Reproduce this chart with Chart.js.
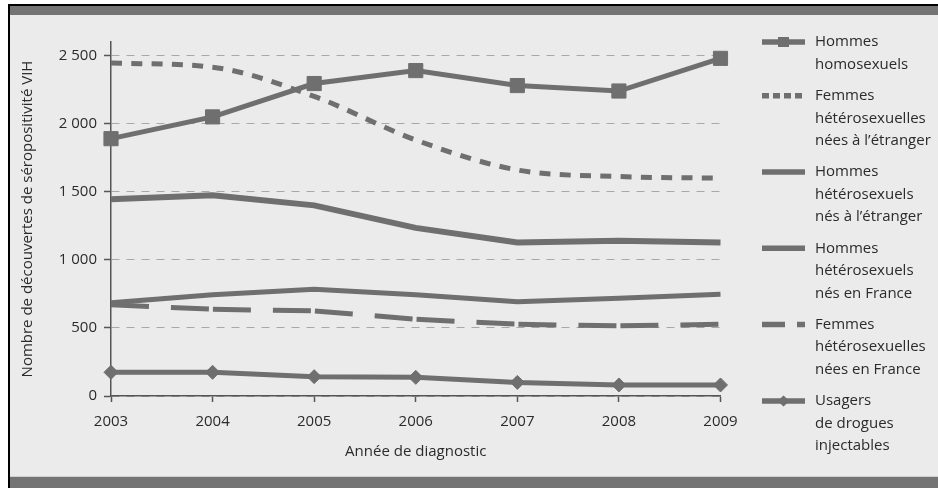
<!DOCTYPE html>
<html><head><meta charset="utf-8">
<script src="https://cdn.jsdelivr.net/npm/chart.js@4.4.0/dist/chart.umd.min.js"></script>
<style>html,body{margin:0;padding:0;background:#fff;overflow:hidden}canvas{display:block}</style>
</head><body><canvas id="c" width="938" height="488"></canvas>
<script>
// ---- data ----
const years = ['2003','2004','2005','2006','2007','2008','2009'];
const hommesHomo     = [1890, 2050, 2295, 2390, 2280, 2240, 2480];
const femmesEtranger = [2445, 2415, 2200, 1880, 1660, 1612, 1600];
const hommesEtranger = [1445, 1475, 1400, 1235, 1127, 1140, 1127];
const hommesFrance   = [685, 743, 784, 743, 693, 718, 748];
const femmesFrance   = [670, 637, 625, 564, 527, 515, 527];
const usagersDrogues = [174, 174, 142, 137, 100, 81, 81];
const yTicks = [0, 500, 1000, 1500, 2000, 2500];
const yTickLabels = ['0', '500', '1 000', '1 500', '2 000', '2 500'];
const seriesLabels = [
  ['Hommes', 'homosexuels'],
  ['Femmes', 'hétérosexuelles', 'nées à l’étranger'],
  ['Hommes', 'hétérosexuels', 'nés à l’étranger'],
  ['Hommes', 'hétérosexuels', 'nés en France'],
  ['Femmes', 'hétérosexuelles', 'nées en France'],
  ['Usagers', 'de drogues', 'injectables']
];
const xTitle = 'Année de diagnostic';
const yTitle = 'Nombre de découvertes de séropositivité VIH';

const COL = '#6f6f6f';
const TXT = '#2b2b2b';
Chart.defaults.font.family = "'Open Sans', 'DejaVu Sans', sans-serif";
Chart.defaults.font.size = 15;
Chart.defaults.color = TXT;

const base = {borderColor: COL, backgroundColor: COL, pointRadius: 0, pointHoverRadius: 0, tension: 0, clip: false, fill: false};
const datasets = [
  Object.assign({}, base, {label: seriesLabels[0].join(' '), data: hommesHomo, borderWidth: 5, pointStyle: 'rect', pointRadius: 10, pointBorderWidth: 1}),
  Object.assign({}, base, {label: seriesLabels[1].join(' '), data: femmesEtranger, borderWidth: 5, borderDash: [11, 9.3], cubicInterpolationMode: 'monotone'}),
  Object.assign({}, base, {label: seriesLabels[2].join(' '), data: hommesEtranger, borderWidth: 6}),
  Object.assign({}, base, {label: seriesLabels[3].join(' '), data: hommesFrance, borderWidth: 5}),
  Object.assign({}, base, {label: seriesLabels[4].join(' '), data: femmesFrance, borderWidth: 5, borderDash: [38, 22, 38, 4]}),
  Object.assign({}, base, {label: seriesLabels[5].join(' '), data: usagersDrogues, borderWidth: 5, pointStyle: 'rectRot', pointRadius: 7, pointBorderWidth: 1})
];

const legendDash = [[], [7, 4], [], [], [23, 12, 8, 100], []];

const bgPlugin = {
  id: 'bg',
  beforeDraw(chart) {
    const ctx = chart.ctx;
    ctx.save();
    ctx.fillStyle = '#ffffff'; ctx.fillRect(0, 0, 938, 488);
    ctx.fillStyle = '#ebebeb'; ctx.fillRect(10, 6, 928, 471);
    ctx.fillStyle = '#747474'; ctx.fillRect(10, 6, 928, 9);
    ctx.fillStyle = '#d0d0d0'; ctx.fillRect(10, 476, 928, 1);
    ctx.fillStyle = '#747474'; ctx.fillRect(10, 477, 928, 11);
    ctx.fillStyle = '#000000'; ctx.fillRect(8, 4, 930, 2); ctx.fillRect(8, 4, 2, 484);
    ctx.restore();
  }
};

const legendPlugin = {
  id: 'customLegend',
  afterDraw(chart) {
    const ctx = chart.ctx;
    const x0 = 762, x1 = 805, tx = 815, lineH = 22.6, extra = 8.5;
    let y = 42;
    ctx.save();
    ctx.font = "15px 'Open Sans', sans-serif";
    ctx.fillStyle = TXT;
    ctx.textBaseline = 'middle';
    ctx.textAlign = 'left';
    chart.data.datasets.forEach((ds, i) => {
      ctx.save();
      ctx.strokeStyle = COL; ctx.fillStyle = COL;
      ctx.lineWidth = 5.5;
      ctx.setLineDash(legendDash[i]);
      ctx.beginPath(); ctx.moveTo(x0, y); ctx.lineTo(x1, y); ctx.stroke();
      ctx.setLineDash([]);
      const cx = (x0 + x1) / 2;
      if (i === 0) { ctx.fillRect(cx - 5.5, y - 5, 11, 10); }
      if (i === 5) { ctx.beginPath(); ctx.moveTo(cx - 6, y); ctx.lineTo(cx, y - 5.5); ctx.lineTo(cx + 6, y); ctx.lineTo(cx, y + 5.5); ctx.closePath(); ctx.fill(); }
      ctx.restore();
      const lines = seriesLabels[i];
      lines.forEach((t, k) => ctx.fillText(t, tx, y + k * lineH));
      y += lines.length * lineH + extra;
    });
    ctx.restore();
  }
};

new Chart(document.getElementById('c'), {
  type: 'line',
  data: {labels: years, datasets},
  plugins: [bgPlugin, legendPlugin],
  options: {
    responsive: false,
    animation: false,
    events: [],
    layout: {padding: {left: 10, right: 217.5, top: 42, bottom: 0}},
    plugins: {legend: {display: false}, tooltip: {enabled: false}},
    scales: {
      x: {
        type: 'category', offset: false,
        grid: {drawOnChartArea: false, drawTicks: true, tickLength: 6, tickColor: '#555', tickWidth: 1.5},
        border: {display: true, color: '#555', width: 1.5},
        ticks: {color: TXT, padding: 11, maxRotation: 0, autoSkip: false, font: {size: 15}},
        title: {display: true, text: xTitle, color: TXT, font: {size: 15}, padding: {top: 0, bottom: 27}},
        afterFit: s => { s.height = 92; }
      },
      y: {
        min: 0, max: 2600,
        afterBuildTicks: s => { s.ticks = yTicks.map(v => ({value: v})); },
        grid: {color: '#a8a8a8', lineWidth: 1, borderDash: [8, 7], tickLength: 7, tickColor: '#555', tickWidth: 1.5, tickBorderDash: []},
        border: {display: true, color: '#555', width: 1.5, dash: [8, 7]},
        ticks: {color: TXT, padding: 7, font: {size: 15}, callback: v => yTickLabels[yTicks.indexOf(v)]},
        title: {display: true, text: yTitle, color: TXT, font: {size: 15}, padding: {top: 9, bottom: 0}},
        afterFit: s => { s.width = 101; }
      }
    }
  }
});
</script>
</body></html>
